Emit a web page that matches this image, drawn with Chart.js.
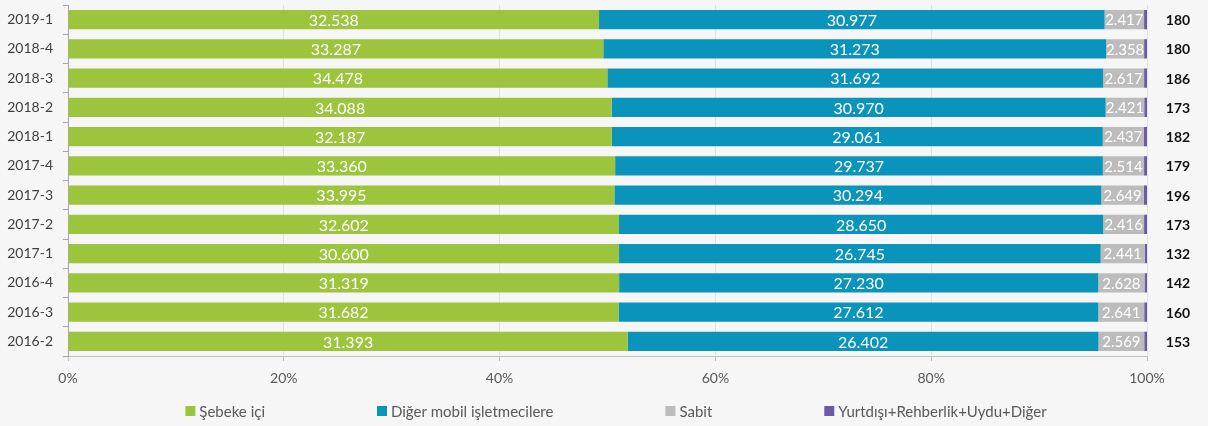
<!DOCTYPE html>
<html>
<head>
<meta charset="utf-8">
<script src="https://cdn.jsdelivr.net/npm/chart.js@4"></script>
<style>
  html,body{margin:0;padding:0;background:#f6f6f6;}
  #wrap{width:1208px;height:426px;position:relative;}
</style>
</head>
<body>
<div id="wrap"><canvas id="c" width="1208" height="426"></canvas></div>
<script>
const categories = ["2019-1","2018-4","2018-3","2018-2","2018-1","2017-4","2017-3","2017-2","2017-1","2016-4","2016-3","2016-2"];
const sebekeIci = [32538,33287,34478,34088,32187,33360,33995,32602,30600,31319,31682,31393];
const digerMobil = [30977,31273,31692,30970,29061,29737,30294,28650,26745,27230,27612,26402];
const sabit = [2417,2358,2617,2421,2437,2514,2649,2416,2441,2628,2641,2569];
const yurtdisi = [180,180,186,173,182,179,196,173,132,142,160,153];
const seriesNames = ["Şebeke içi","Diğer mobil işletmecilere","Sabit","Yurtdışı+Rehberlik+Uydu+Diğer"];
const xTicks = [0,20,40,60,80,100];

const raw = [sebekeIci, digerMobil, sabit, yurtdisi];
const totals = categories.map((_, i) => raw.reduce((s, arr) => s + arr[i], 0));
const pct = raw.map(arr => arr.map((v, i) => v / totals[i] * 100));
const colors = ["#9cc43c","#0a93bb","#bcbcbc","#6c5aa6"];
const FONT = "Lato, 'Open Sans', sans-serif";

function fmt(n){ return String(n).replace(/\B(?=(\d{3})+(?!\d))/g, "."); }

const labelPlugin = {
  id: "valueLabels",
  afterDatasetsDraw(chart) {
    const ctx = chart.ctx;
    ctx.save();
    ctx.textAlign = "center";
    ctx.textBaseline = "middle";
    for (let d = 0; d < 3; d++) {
      const meta = chart.getDatasetMeta(d);
      ctx.font = (d === 2 ? "15px " : "16px ") + FONT;
      ctx.fillStyle = "#ffffff";
      meta.data.forEach((el, i) => {
        ctx.fillText(fmt(raw[d][i]), (el.x + el.base) / 2, el.y + 1);
      });
    }
    const meta3 = chart.getDatasetMeta(3);
    ctx.font = "bold 14px " + FONT;
    ctx.fillStyle = "#111111";
    meta3.data.forEach((el, i) => {
      ctx.fillText(fmt(raw[3][i]), chart.chartArea.right + 31, el.y + 1);
    });
    ctx.restore();
  },
  afterDraw(chart) {
    const ctx = chart.ctx;
    ctx.save();
    ctx.font = "15px " + FONT;
    ctx.textBaseline = "middle";
    ctx.textAlign = "left";
    const box = 10, boxGap = 4, itemGap = 112;
    const widths = chart.data.datasets.map(ds => box + boxGap + ctx.measureText(ds.label).width);
    const total = widths.reduce((a, b) => a + b, 0) + itemGap * (widths.length - 1);
    let x = 616 - total / 2;
    const y = 411;
    chart.data.datasets.forEach((ds, i) => {
      ctx.fillStyle = ds.backgroundColor;
      ctx.fillRect(x, y - box / 2, box, box);
      ctx.fillStyle = "#595959";
      ctx.fillText(ds.label, x + box + boxGap, y + 1);
      x += widths[i] + itemGap;
    });
    ctx.restore();
  }
};

new Chart(document.getElementById("c"), {
  type: "bar",
  data: {
    labels: categories,
    datasets: pct.map((arr, d) => ({
      label: seriesNames[d],
      data: arr,
      backgroundColor: colors[d],
      borderWidth: 0,
      barPercentage: 0.66,
      categoryPercentage: 1.0
    }))
  },
  options: {
    indexAxis: "y",
    responsive: false,
    animation: false,
    devicePixelRatio: 1,
    layout: { padding: { left: 0, right: 61, top: 5, bottom: 40 } },
    plugins: { legend: { display: false }, tooltip: { enabled: false } },
    scales: {
      x: {
        stacked: true,
        min: 0, max: 100,
        afterBuildTicks(scale) { scale.ticks = xTicks.map(v => ({ value: v })); },
        afterFit(scale) { scale.height = 30; scale.paddingLeft = 0; scale.paddingRight = 0; },
        ticks: { callback: v => v + "%", color: "#595959", font: { family: FONT, size: 14 }, padding: 9, maxRotation: 0 },
        grid: { color: "#e2e2e2", lineWidth: 1, tickLength: 5, tickColor: "#bfbfbf" },
        border: { color: "#bfbfbf", width: 1 }
      },
      y: {
        stacked: true,
        afterFit(scale) { scale.width = 68; scale.paddingTop = 0; scale.paddingBottom = 0; },
        ticks: { color: "#404040", font: { family: FONT, size: 14 }, padding: 10 },
        grid: { drawOnChartArea: false, tickLength: 5, tickColor: "#a0a6b8", offset: true },
        border: { color: "#a0a6b8", width: 1 }
      }
    }
  },
  plugins: [labelPlugin]
});
</script>
</body>
</html>
